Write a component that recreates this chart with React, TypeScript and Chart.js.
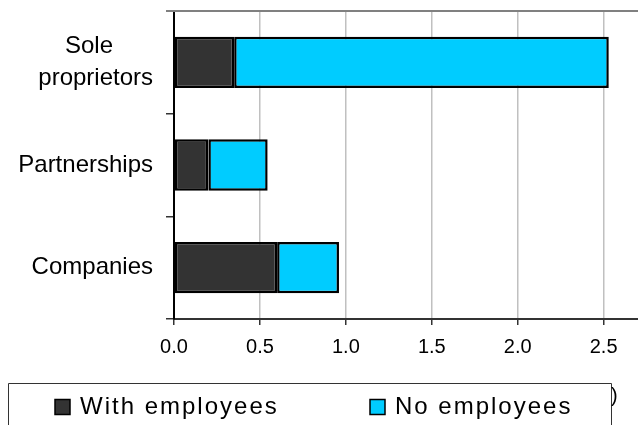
import React, { useEffect, useRef } from "react";
import { Chart, registerables } from "chart.js";

Chart.register(...registerables);

const categories: (string | string[])[] = [["Sole      ", "proprietors"], "Partnerships", "Companies"];
const seriesNames = ["With employees", "No employees"];
const withEmployees = [0.35, 0.2, 0.6];
const noEmployees = [2.18, 0.345, 0.36];
const seriesColors = ["#333333", "#00ccff"];
const xTickValues = [0, 0.5, 1, 1.5, 2, 2.5];

const FONT = "'Liberation Sans', Arial, sans-serif";

const framePlugin = {
  id: "frame",
  afterDraw(chart: any) {
    const { ctx, chartArea } = chart;
    ctx.save();
    // top border of plot area
    ctx.strokeStyle = "#808080";
    ctx.lineWidth = 2;
    ctx.beginPath();
    ctx.moveTo(chartArea.left - 8, chartArea.top);
    ctx.lineTo(chartArea.right, chartArea.top);
    ctx.stroke();

    // legend box
    const boxLeft = 8.5;
    const boxTop = 383.5;
    const boxRight = 611.5;
    ctx.strokeStyle = "#333333";
    ctx.lineWidth = 1;
    ctx.beginPath();
    ctx.moveTo(boxLeft, chart.height + 2);
    ctx.lineTo(boxLeft, boxTop);
    ctx.lineTo(boxRight, boxTop);
    ctx.lineTo(boxRight, chart.height + 2);
    ctx.stroke();

    const itemX = [55, 370];
    const midY = 407;
    ctx.font = `24px ${FONT}`;
    ctx.textBaseline = "middle";
    ctx.textAlign = "left";
    (ctx as any).letterSpacing = "2px";
    chart.data.datasets.forEach((ds: any, i: number) => {
      const x = itemX[i];
      ctx.fillStyle = ds.backgroundColor;
      ctx.fillRect(x, midY - 7.5, 15, 15);
      ctx.strokeStyle = "#000";
      ctx.lineWidth = 1.5;
      ctx.strokeRect(x, midY - 7.5, 15, 15);
      ctx.fillStyle = "#000";
      ctx.fillText(ds.label, x + 25, midY);
    });
    (ctx as any).letterSpacing = "0px";
    ctx.font = `20px ${FONT}`;
    ctx.fillText(")", 611, 396);
    ctx.restore();
  },
};

export default function App() {
  const ref = useRef<HTMLCanvasElement | null>(null);
  useEffect(() => {
    if (!ref.current) return;
    const chart = new Chart(ref.current, {
      type: "bar",
      data: {
        labels: categories,
        datasets: [
          {
            label: seriesNames[0],
            data: withEmployees,
            backgroundColor: seriesColors[0],
            borderColor: "#000",
            borderWidth: 2.5,
            borderSkipped: false,
          },
          {
            label: seriesNames[1],
            data: noEmployees,
            backgroundColor: seriesColors[1],
            borderColor: "#000",
            borderWidth: 2.5,
            borderSkipped: false,
          },
        ],
      },
      options: {
        indexAxis: "y",
        animation: false,
        responsive: false,
        maintainAspectRatio: false,
        layout: { padding: { top: 11, left: 0, right: 0, bottom: 66 } },
        plugins: { legend: { display: false }, tooltip: { enabled: false } },
        datasets: { bar: { categoryPercentage: 1, barPercentage: 0.5 } },
        scales: {
          x: {
            stacked: true,
            min: 0,
            max: 2.7,
            afterBuildTicks(scale: any) {
              scale.ticks = xTickValues.map((v) => ({ value: v }));
            },
            afterFit(scale: any) {
              scale.height = 40;
              scale.paddingLeft = 0;
              scale.paddingRight = 0;
            },
            grid: {
              color: "#c0c0c0",
              lineWidth: 1.5,
              tickColor: "#333333",
              tickLength: 6,
            },
            border: { color: "#333333", width: 2 },
            ticks: {
              color: "#000",
              padding: 10,
              font: { family: FONT, size: 20 },
              callback: (v: any) => Number(v).toFixed(1),
            },
          },
          y: {
            stacked: true,
            afterFit(scale: any) {
              scale.width = 174;
              scale.paddingTop = 0;
              scale.paddingBottom = 0;
            },
            grid: {
              drawOnChartArea: false,
              offset: true,
              tickColor: "#333333",
              tickLength: 8,
              lineWidth: 1.5,
            },
            border: { color: "#000", width: 2 },
            ticks: {
              color: "#000",
              padding: 13,
              font: { family: FONT, size: 24, lineHeight: 1.3 },
            },
          },
        },
      },
      plugins: [framePlugin],
    } as any);
    return () => chart.destroy();
  }, []);
  return (
    <div style={{ position: "absolute", left: 0, top: 0, width: 638, height: 425 }}>
      <canvas ref={ref} width={638} height={425} style={{ display: "block" }} />
    </div>
  );
}
